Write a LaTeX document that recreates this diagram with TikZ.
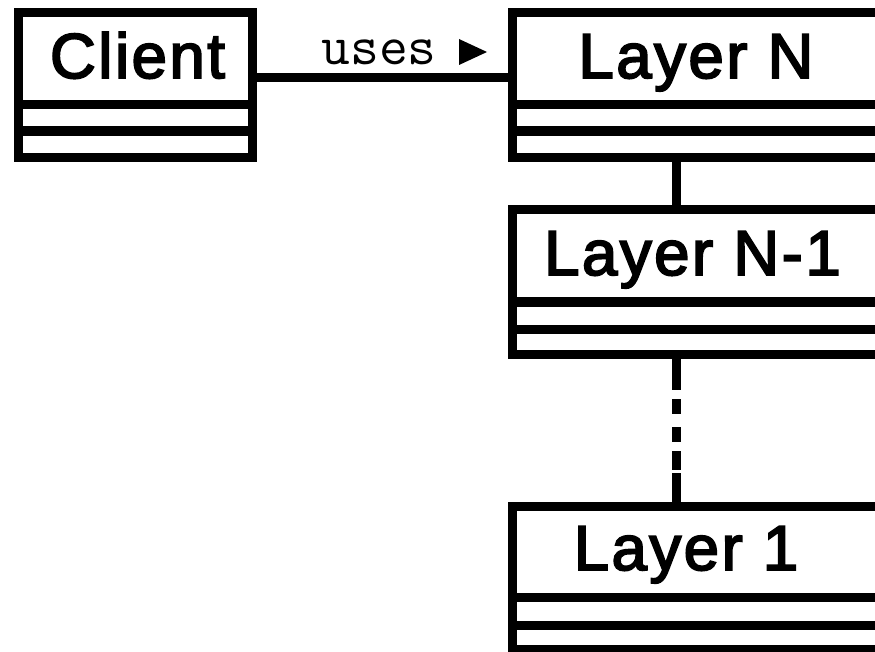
\documentclass[tikz,border=0pt]{standalone}
\usepackage{fontspec}
\setmainfont{Liberation Sans}
\newfontfamily\boxf[LetterSpace=4,FakeBold=3]{Liberation Sans}
\begin{document}
\begin{tikzpicture}[x=1pt,y=-1pt,
  umlbox/.style={draw=black,line width=9pt,rectangle,inner sep=0pt,outer sep=0pt},
  divider/.style={line width=9.5pt,black},
  conn/.style={line width=9pt,black},
  boxtext/.style={anchor=base,inner sep=0pt,font=\fontsize{63.5pt}{70pt}\boxf},
  reltext/.style={anchor=base,inner sep=0pt,font=\fontsize{56pt}{60pt}\ttfamily}]
\useasboundingbox (0,0) rectangle (875,652);
\clip (0,0) rectangle (875,652);
\fill[white] (0,0) rectangle (875,652);
% boxes
\node[umlbox,minimum width=234pt,minimum height=145pt] (client) at (135.5,85) {};
\node[umlbox,minimum width=407.5pt,minimum height=145pt] (layerN) at (716.25,85) {};
\node[umlbox,minimum width=407.5pt,minimum height=144.5pt] (layerN1) at (716.25,281.75) {};
\node[umlbox,minimum width=407.5pt,minimum height=143pt] (layer1) at (716.25,578) {};
% dividers
\draw[divider] (client.west|-0,104.5) -- (client.east|-0,104.5);
\draw[divider] (client.west|-0,131) -- (client.east|-0,131);
\draw[divider] (layerN.west|-0,104.5) -- (layerN.east|-0,104.5);
\draw[divider] (layerN.west|-0,131) -- (layerN.east|-0,131);
\draw[divider] (layerN1.west|-0,302) -- (layerN1.east|-0,302);
\draw[divider] (layerN1.west|-0,329.5) -- (layerN1.east|-0,329.5);
\draw[divider] (layer1.west|-0,597.5) -- (layer1.east|-0,597.5);
\draw[divider] (layer1.west|-0,625.5) -- (layer1.east|-0,625.5);
% texts
\node[boxtext] (tclient) at (137.5,78) {Client};
\node[boxtext] (tlayerN) at (696,78) {Layer N};
\node[boxtext] (tlayerN1) at (692.5,275) {Layer N-1};
\node[boxtext] (tlayer1) at (686,570) {Layer 1};
% connectors
\coordinate (col) at (676.5,0);
\draw[conn] ([yshift=7.5pt]client.east) -- ([yshift=7.5pt]layerN.west);
\node[reltext] (uses) at (379,65) {uses};
\fill[black] (459,39) -- (487,52) -- (459,65) -- cycle;
\draw[conn] (layerN.south-|col) -- (layerN1.north-|col);
\draw[conn,dash pattern=on 36pt off 9pt on 15pt off 13pt on 15pt off 9pt on 19pt off 3pt on 60pt]
  (layerN1.south-|col) -- (layer1.north-|col);
\end{tikzpicture}
\end{document}
